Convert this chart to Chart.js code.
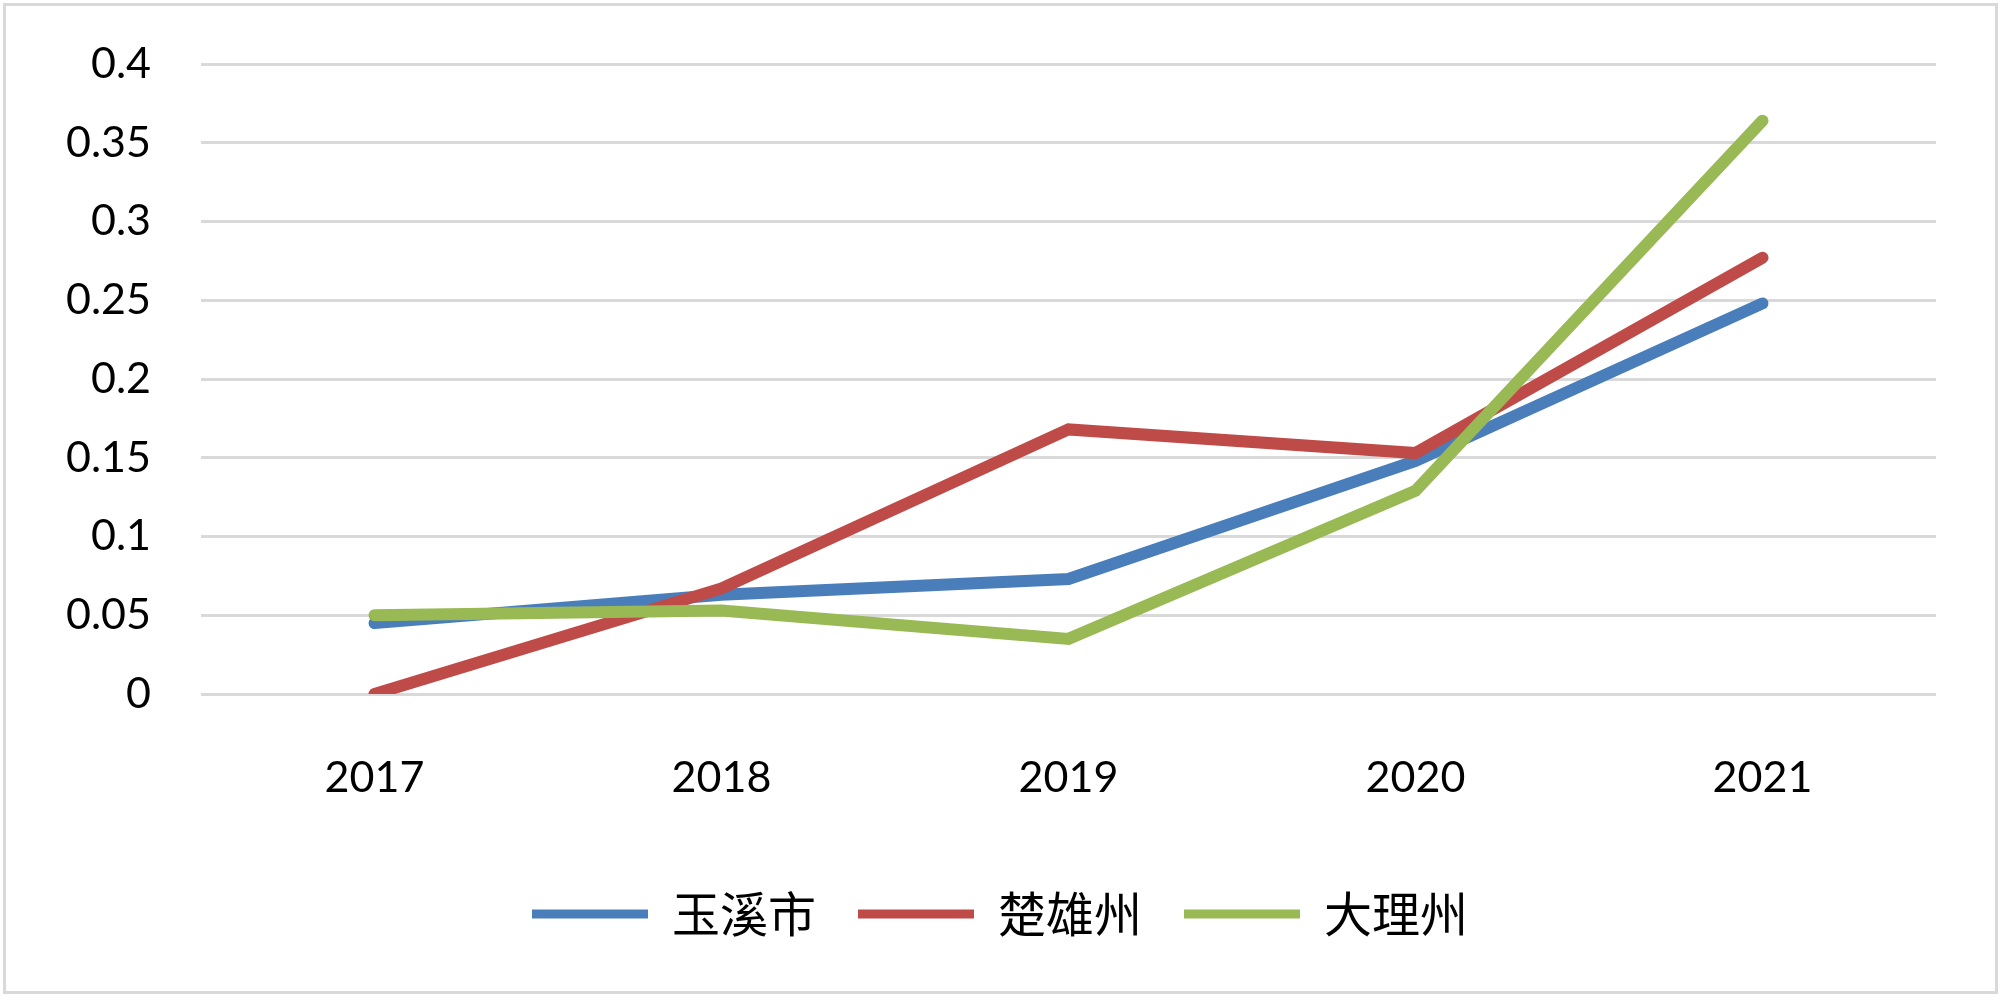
<!DOCTYPE html>
<html>
<head>
<meta charset="utf-8">
<script src="https://cdn.jsdelivr.net/npm/chart.js@4/dist/chart.umd.min.js"></script>
<style>
  html, body { margin: 0; padding: 0; background: #ffffff; }
  #wrap { position: relative; width: 2000px; height: 996px; }
</style>
</head>
<body>
<div id="wrap"><canvas id="c" width="2000" height="996"></canvas></div>
<script>
const categories = ['2017', '2018', '2019', '2020', '2021'];
const seriesNames = ['玉溪市', '楚雄州', '大理州'];
const yuxi = [0.045, 0.063, 0.073, 0.148, 0.248];
const chuxiong = [0.0, 0.067, 0.168, 0.153, 0.277];
const dali = [0.050, 0.053, 0.035, 0.129, 0.364];
const yTicks = [0, 0.05, 0.1, 0.15, 0.2, 0.25, 0.3, 0.35, 0.4];
const colors = ['#4A7EBB', '#BE4B48', '#98B954'];

const borderPlugin = {
  id: 'outerBorder',
  beforeDraw(chart) {
    const ctx = chart.ctx;
    ctx.save();
    ctx.fillStyle = '#ffffff';
    ctx.fillRect(0, 0, chart.width, chart.height);
    ctx.strokeStyle = '#d9d9d9';
    ctx.lineWidth = 3;
    ctx.strokeRect(4.5, 4.5, chart.width - 8, chart.height - 8);
    ctx.restore();
  }
};

const numFont = { family: 'Lato, "Open Sans", sans-serif', size: 43 };
const yFont = { family: 'Lato, "Open Sans", sans-serif', size: 43, lineHeight: 0.5 };

function mk(label, data, color, order) {
  return {
    label, data, order,
    borderColor: color,
    backgroundColor: color,
    borderWidth: 12,
    borderCapStyle: 'round',
    borderJoinStyle: 'miter',
    pointRadius: 0,
    pointHoverRadius: 0,
    tension: 0,
    fill: false
  };
}

new Chart(document.getElementById('c'), {
  type: 'line',
  data: {
    labels: categories,
    datasets: [
      mk(seriesNames[0], yuxi, colors[0], 3),
      mk(seriesNames[1], chuxiong, colors[1], 2),
      mk(seriesNames[2], dali, colors[2], 1)
    ]
  },
  options: {
    responsive: false,
    animation: false,
    devicePixelRatio: 1,
    layout: { padding: { left: 0, right: 0, top: 64, bottom: 48 } },
    plugins: {
      tooltip: { enabled: false },
      legend: {
        position: 'bottom',
        labels: {
          sort: (a, b) => a.datasetIndex - b.datasetIndex,
          boxWidth: 116,
          boxHeight: 9,
          useBorderRadius: true,
          borderRadius: 4.5,
          padding: 42,
          color: '#000000',
          font: { family: '"Noto Sans CJK SC", sans-serif', size: 48 },
          generateLabels(chart) {
            return chart.data.datasets.map((ds, i) => ({
              text: ds.label,
              fillStyle: ds.borderColor,
              strokeStyle: ds.borderColor,
              lineWidth: 0,
              hidden: false,
              datasetIndex: i
            }));
          }
        }
      }
    },
    scales: {
      x: {
        offset: true,
        grid: { display: false, drawTicks: false },
        border: { display: false },
        ticks: { color: '#000000', font: numFont, padding: 58, maxRotation: 0 },
        afterFit(s) { s.height = 154; }
      },
      y: {
        min: 0,
        max: 0.4,
        afterBuildTicks(s) { s.ticks = yTicks.map(v => ({ value: v })); },
        grid: { color: '#d9d9d9', lineWidth: 3, drawTicks: false },
        border: { display: false },
        ticks: {
          color: '#000000',
          font: yFont,
          padding: 50,
          callback: (v) => String(parseFloat(Number(v).toFixed(2)))
        },
        afterFit(s) { s.width = 201; }
      },
      yRight: {
        position: 'right',
        min: 0,
        max: 0.4,
        grid: { display: false, drawTicks: false },
        border: { display: false },
        ticks: { display: false },
        afterFit(s) { s.width = 64; }
      }
    }
  },
  plugins: [borderPlugin]
});
</script>
</body>
</html>
